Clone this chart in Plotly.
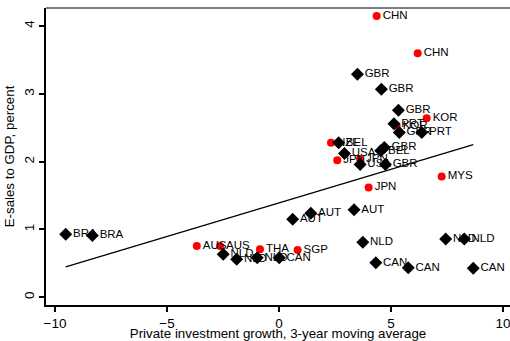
import numpy as np
import plotly.graph_objects as go

# Asia-Pacific economies (red circles)
ap_country = ["CHN", "CHN", "KOR", "KOR", "NZL", "JPN", "JPN", "JPN", "MYS",
              "AUS", "AUS", "THA", "SGP"]
ap_growth = [4.36, 6.19, 6.59, 5.25, 2.32, 2.60, 3.62, 4.00, 7.26,
             -3.67, -2.63, -0.85, 0.83]
ap_esales = [4.15, 3.60, 2.64, 2.53, 2.28, 2.02, 2.04, 1.62, 1.78,
             0.757, 0.757, 0.708, 0.698]

# Other economies (black diamonds)
ot_country = ["BRA", "BRA", "NLD", "NLD", "NLD", "CAN", "AUT", "AUT", "AUT",
              "NLD", "CAN", "CAN", "NLD", "NLD", "CAN", "GBR", "GBR", "GBR",
              "PRT", "GBR", "PRT", "GBR", "BEL", "GBR", "USA", "USA", "BEL"]
ot_growth = [-9.52, -8.33, -2.49, -1.89, -0.97, 0.01, 0.61, 1.42, 3.35,
             3.74, 4.32, 5.77, 7.44, 8.27, 8.67, 3.50, 4.57, 5.33,
             5.13, 5.37, 6.37, 4.70, 4.54, 4.75, 3.62, 2.92, 2.66]
ot_esales = [0.93, 0.91, 0.634, 0.56, 0.584, 0.584, 1.15, 1.24, 1.29,
             0.81, 0.51, 0.437, 0.86, 0.86, 0.428, 3.29, 3.07, 2.76,
             2.56, 2.43, 2.43, 2.21, 2.16, 1.96, 1.96, 2.12, 2.28]

x_ticks = [-10, -5, 0, 5, 10]
y_ticks = [0, 1, 2, 3, 4]

# Linear fit over all observations
all_x = np.array(ap_growth + ot_growth)
all_y = np.array(ap_esales + ot_esales)
slope, intercept = np.polyfit(all_x, all_y, 1)
fit_x = np.array([all_x.min(), all_x.max()])
fit_y = intercept + slope * fit_x

label_font = dict(family="Liberation Sans, Arial, sans-serif", size=11.5, color="black")

fig = go.Figure()
fig.add_trace(go.Scatter(
    x=ap_growth, y=ap_esales, mode="markers+text", text=ap_country,
    textposition="middle right", textfont=label_font,
    marker=dict(symbol="circle", size=8, color="#ff0000"),
    showlegend=False, cliponaxis=False))
fig.add_trace(go.Scatter(
    x=ot_growth, y=ot_esales, mode="markers+text", text=ot_country,
    textposition="middle right", textfont=label_font,
    marker=dict(symbol="diamond", size=10, color="black"),
    showlegend=False, cliponaxis=False))
fig.add_trace(go.Scatter(
    x=fit_x, y=fit_y, mode="lines",
    line=dict(color="black", width=1.2), showlegend=False))

fig.add_shape(type="line", xref="paper", yref="paper", x0=0, x1=1, y0=1, y1=1,
              line=dict(color="#555555", width=1.5))

axis_font = dict(family="Liberation Sans, Arial, sans-serif", size=13.3, color="black")
tick_font = dict(family="Liberation Sans, Arial, sans-serif", size=13.5, color="black")
fig.update_layout(
    width=510, height=341,
    margin=dict(l=46, r=0, t=8, b=36),
    paper_bgcolor="white", plot_bgcolor="white",
    font=axis_font,
    xaxis=dict(range=[-10.40, 10.31], tickvals=x_ticks, ticks="outside", ticklen=5,
               tickwidth=1.5, tickcolor="black", showline=True, linecolor="black",
               linewidth=2, showgrid=False, zeroline=False, automargin=False,
               tickfont=tick_font, ticklabeloverflow="allow",
               title=dict(text="Private investment growth, 3-year moving average",
                          font=axis_font, standoff=3)),
    yaxis=dict(range=[-0.114, 4.267], tickvals=y_ticks, ticks="outside", ticklen=5,
               tickwidth=1.5, tickcolor="black", tickangle=-90, showline=True,
               linecolor="black", linewidth=2, showgrid=False, zeroline=False,
               automargin=False, tickfont=tick_font,
               title=dict(text="E-sales to GDP, percent", font=axis_font, standoff=4)),
)

fig.write_html("out.html")
